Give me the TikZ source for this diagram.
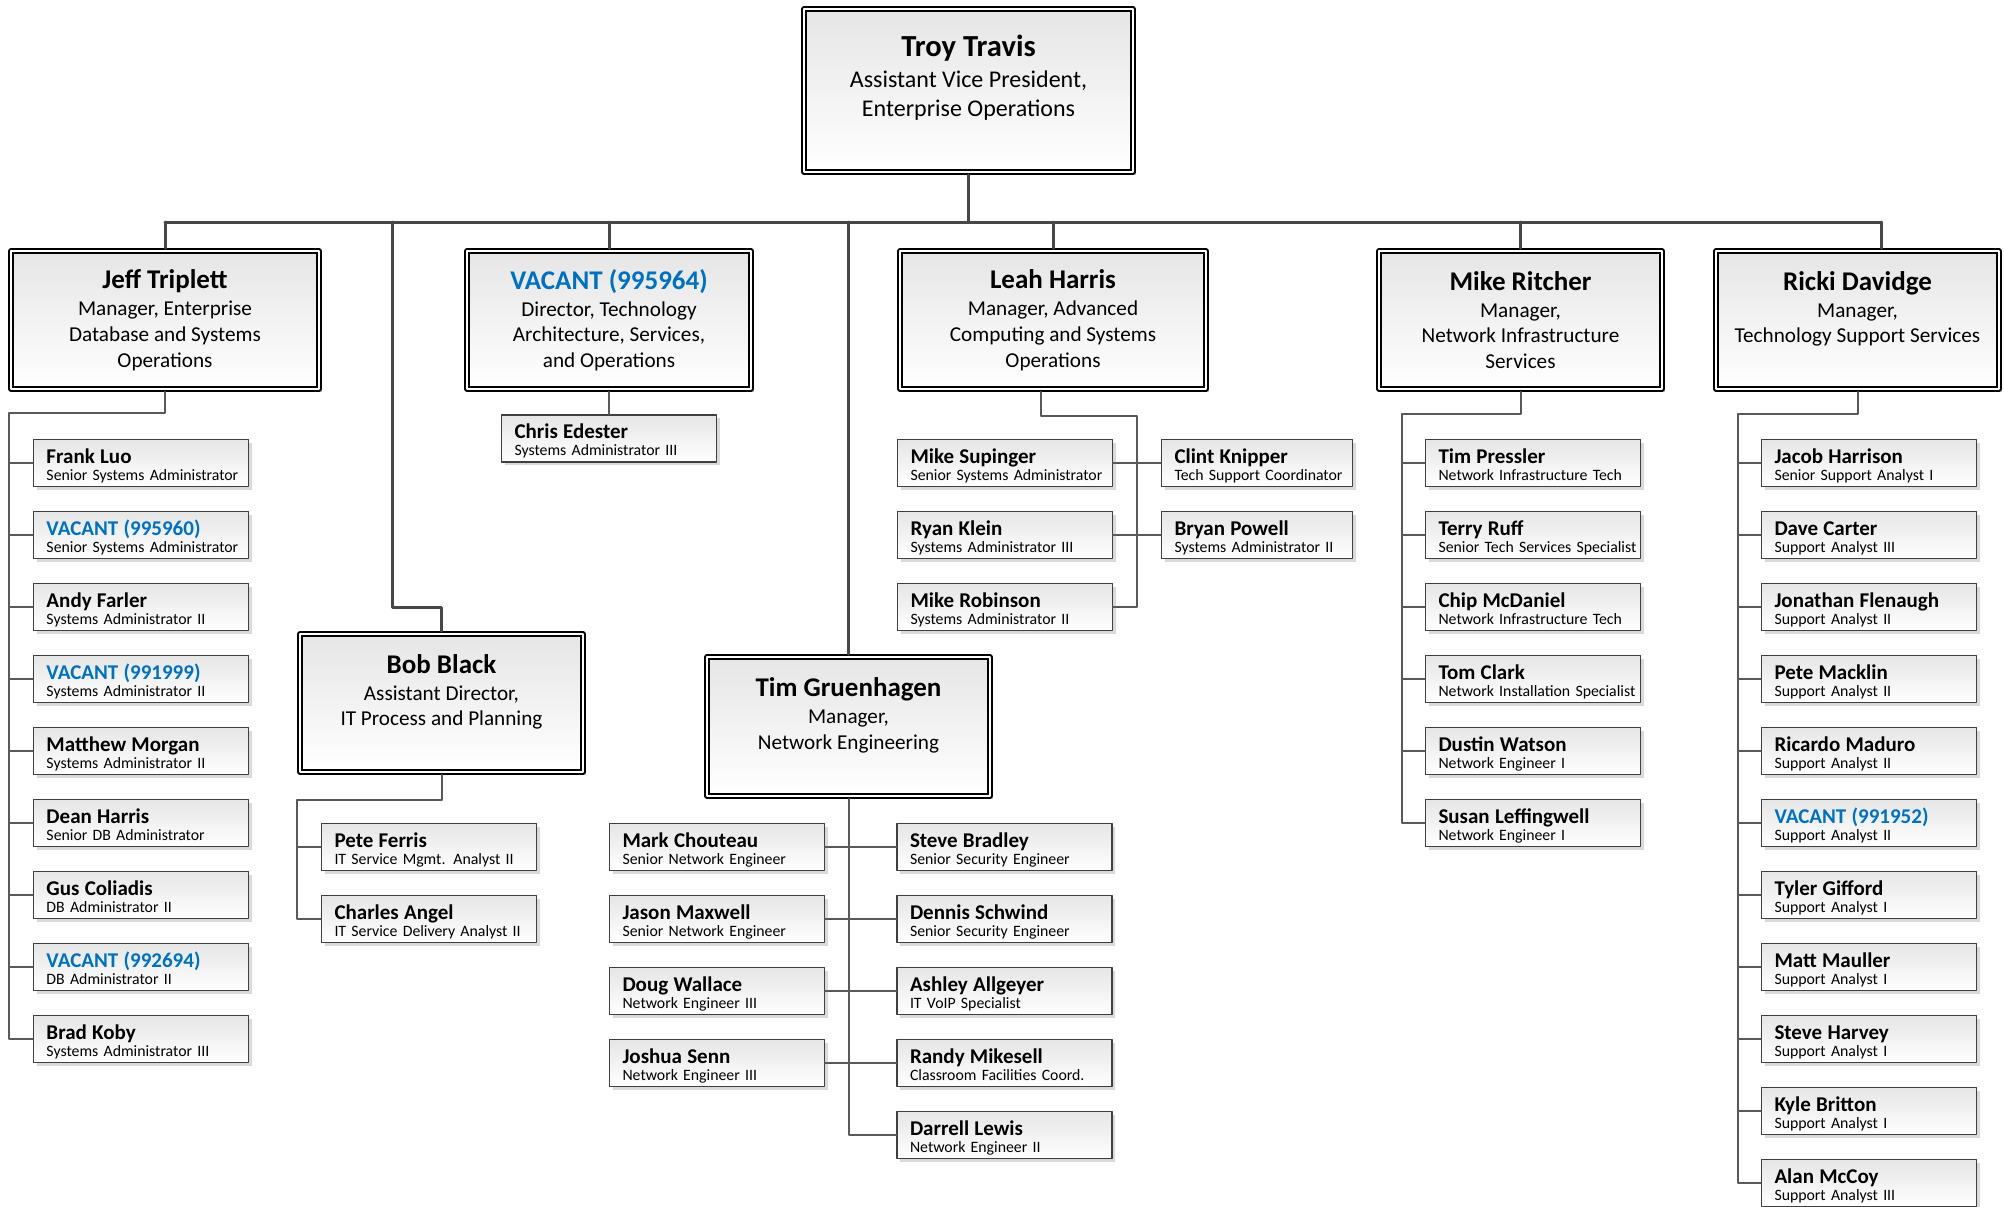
\documentclass[tikz,border=0pt]{standalone}
\usepackage{fontspec}
\setmainfont{Carlito}
\usetikzlibrary{shadows}
\definecolor{vac}{HTML}{0070C0}
\newcommand{\boss}[2]{{\fontsize{13.5}{14}\selectfont\bfseries #1}\\[0.6pt] #2}
\newcommand{\staff}[3]{\mbox{\rule{0pt}{10.5pt}\color{#1}\fontsize{10.5}{12}\selectfont\bfseries #2}\\ \mbox{#3\rule[-2pt]{0pt}{2pt}}}
\begin{document}
\begin{tikzpicture}[x=0.5pt, y=-0.5pt, line join=round, line cap=round,
  head/.style={draw=black, line width=0.8pt, double=white, double distance=1.2pt, outer sep=1.4pt,
    top color=black!10, bottom color=white, minimum width=#1, minimum height=69pt, align=center,
    font=\fontsize{10.6}{12.9}\selectfont,
    drop shadow={shadow xshift=1.5pt, shadow yshift=-1.5pt, fill=black!18, opacity=1}},
  kid/.style={draw=black!75, line width=0.6pt, top color=black!10, bottom color=white,
    minimum width=107.5pt, minimum height=23.5pt, inner xsep=6.5pt, inner ysep=0.5pt, text width=94.5pt, align=left,
    font=\fontsize{7.9}{8.5}\selectfont,
    drop shadow={shadow xshift=1.5pt, shadow yshift=-1.5pt, fill=black!15, opacity=1}},
  kidn/.style={kid, minimum width=95.5pt, text width=82.5pt},
  bus/.style={draw=black!72, line width=1.5pt},
  link/.style={draw=black!65, line width=1pt}]
  \useasboundingbox[fill=white] (0,0) rectangle (2004,1206);
  % top
  \node[head=164.5pt, minimum height=81.5pt, font=\fontsize{12}{14.5}\selectfont] (troy) at (968.5,90.5)
    {{\fontsize{15.3}{16}\selectfont\bfseries Troy Travis}\\[1.2pt] Assistant Vice President,\\ Enterprise Operations\\~};
  % managers
  \node[head=154pt] (jeff) at (165,320) {\boss{Jeff Triplett}{Manager, Enterprise\\ Database and Systems\\ Operations}};
  \node[head=142pt] (vac) at (609,320) {\boss{\color{vac}VACANT (995964)}{Director, Technology\\ Architecture, Services,\\ and Operations}};
  \node[head=153pt] (leah) at (1053,320) {\boss{Leah Harris}{Manager, Advanced\\ Computing and Systems\\ Operations}};
  \node[head=141.5pt] (mike) at (1520.5,320) {\boss{Mike Ritcher}{Manager,\\ Network Infrastructure\\ Services}};
  \node[head=141.5pt] (ricki) at (1857.5,320) {\boss{Ricki Davidge}{Manager,\\ Technology Support Services\\~}};
  \node[head=141.5pt] (bob) at (441.5,703) {\boss{Bob Black}{Assistant Director,\\ IT Process and Planning\\~}};
  \node[head=141.5pt, minimum height=69.5pt] (tim) at (848.5,726.5) {\boss{Tim Gruenhagen}{Manager,\\ Network Engineering\\~}};
  % staff
  \foreach \who/\job/\col [count=\i] in {Frank Luo/Senior Systems Administrator/black,
      VACANT (995960)/Senior Systems Administrator/vac, Andy Farler/Systems Administrator II/black,
      VACANT (991999)/Systems Administrator II/vac, Matthew Morgan/Systems Administrator II/black,
      Dean Harris/Senior DB Administrator/black, Gus Coliadis/DB Administrator II/black,
      VACANT (992694)/DB Administrator II/vac, Brad Koby/Systems Administrator III/black}
    \node[kid] (j\i) at (141,{463+72*(\i-1)}) {\staff{\col}{\who}{\job}};
  \foreach \who/\job [count=\i] in {Pete Ferris/IT Service Mgmt. Analyst II, Charles Angel/IT Service Delivery Analyst II}
    \node[kid] (b\i) at (429,{847+72*(\i-1)}) {\staff{black}{\who}{\job}};
  \node[kid] (ce) at (609,438.5) {\staff{black}{Chris Edester}{Systems Administrator III}};
  \foreach \who/\job [count=\i] in {Mike Supinger/Senior Systems Administrator, Ryan Klein/Systems Administrator III,
      Mike Robinson/Systems Administrator II}
    \node[kid] (l\i) at (1005,{463+72*(\i-1)}) {\staff{black}{\who}{\job}};
  \foreach \who/\job [count=\i] in {Clint Knipper/Tech Support Coordinator, Bryan Powell/Systems Administrator II}
    \node[kidn] (r\i) at (1257,{463+72*(\i-1)}) {\staff{black}{\who}{\job}};
  \foreach \who/\job [count=\i] in {Mark Chouteau/Senior Network Engineer, Jason Maxwell/Senior Network Engineer,
      Doug Wallace/Network Engineer III, Joshua Senn/Network Engineer III}
    \node[kid] (tl\i) at (717,{847+72*(\i-1)}) {\staff{black}{\who}{\job}};
  \foreach \who/\job [count=\i] in {Steve Bradley/Senior Security Engineer, Dennis Schwind/Senior Security Engineer,
      Ashley Allgeyer/IT VoIP Specialist, Randy Mikesell/Classroom Facilities Coord., Darrell Lewis/Network Engineer II}
    \node[kid] (tr\i) at (1004.5,{847+72*(\i-1)}) {\staff{black}{\who}{\job}};
  \foreach \who/\job [count=\i] in {Tim Pressler/Network Infrastructure Tech, Terry Ruff/Senior Tech Services Specialist,
      Chip McDaniel/Network Infrastructure Tech, Tom Clark/Network Installation Specialist,
      Dustin Watson/Network Engineer I, Susan Leffingwell/Network Engineer I}
    \node[kid] (m\i) at (1533,{463+72*(\i-1)}) {\staff{black}{\who}{\job}};
  \foreach \who/\job/\col [count=\i] in {Jacob Harrison/Senior Support Analyst I/black, Dave Carter/Support Analyst III/black,
      Jonathan Flenaugh/Support Analyst II/black, Pete Macklin/Support Analyst II/black,
      Ricardo Maduro/Support Analyst II/black, VACANT (991952)/Support Analyst II/vac,
      Tyler Gifford/Support Analyst I/black, Matt Mauller/Support Analyst I/black,
      Steve Harvey/Support Analyst I/black, Kyle Britton/Support Analyst I/black, Alan McCoy/Support Analyst III/black}
    \node[kid] (k\i) at (1869,{463+72*(\i-1)}) {\staff{\col}{\who}{\job}};
  % lines from the top
  \coordinate (bus) at (968.5,222);
  \coordinate (rtop) at ([xshift=12pt]ricki.north);
  \coordinate (bturn) at (392.5,607);
  \draw[bus] (troy) -- (troy |- bus);
  \draw[bus] (jeff.north |- bus) -- (rtop |- bus);
  \foreach \m in {jeff,vac,leah,mike,tim}
    \draw[bus] (\m.north) -- (\m.north |- bus);
  \draw[bus] (rtop) -- (rtop |- bus);
  \draw[bus] (bturn |- bus) -- (bturn) -| (bob.north);
  % lines to the staff
  \coordinate (jrail) at (9,413);
  \coordinate (brail) at (297,800);
  \coordinate (lstart) at ([xshift=-6pt]leah.south);
  \coordinate (lrail) at (1137,416);
  \coordinate (mrail) at (1402,414);
  \coordinate (krail) at (1738,414);
  \draw[link] (jeff.south) |- (jrail) |- (j9.west);
  \foreach \i in {1,...,8} \draw[link] (j\i.west) -- (j\i.west -| jrail);
  \draw[link] (bob.south) |- (brail) |- (b2.west);
  \draw[link] (b1.west) -- (b1.west -| brail);
  \draw[link] (vac.south) -- (ce.north);
  \draw[link] (lstart) |- (lrail) |- (l3.east);
  \foreach \i in {1,2} \draw[link] (l\i.east) -- (r\i.west);
  \draw[link] (tim.south) |- (tr5.west);
  \foreach \i in {1,...,4} \draw[link] (tl\i.east) -- (tr\i.west);
  \draw[link] (mike.south) |- (mrail) |- (m6.west);
  \foreach \i in {1,...,5} \draw[link] (m\i.west) -- (m\i.west -| mrail);
  \draw[link] (ricki.south) |- (krail) |- (k11.west);
  \foreach \i in {1,...,10} \draw[link] (k\i.west) -- (k\i.west -| krail);
\end{tikzpicture}
\end{document}
